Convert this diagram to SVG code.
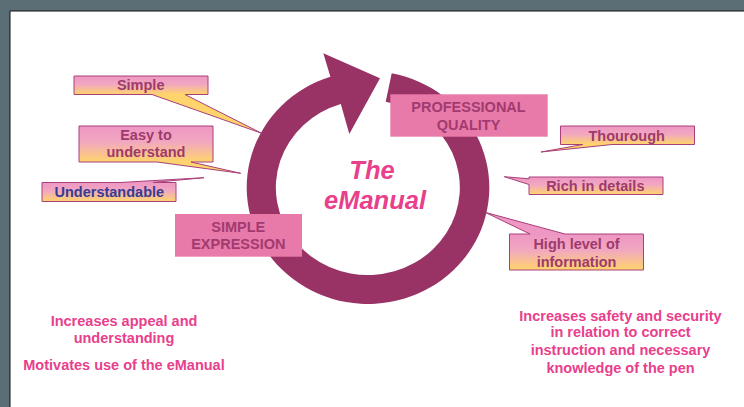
<svg xmlns="http://www.w3.org/2000/svg" xmlns:xlink="http://www.w3.org/1999/xlink" width="744" height="407" viewBox="0 0 744 407">
<defs>
<linearGradient id="g" x1="0" y1="0" x2="0" y2="1">
<stop offset="0" stop-color="#EE96C4"/>
<stop offset="0.45" stop-color="#F1A8C0"/>
<stop offset="1" stop-color="#FFD46C"/>
</linearGradient>
<linearGradient id="gSimple" href="#g" xlink:href="#g" gradientUnits="userSpaceOnUse" x1="0" y1="76" x2="0" y2="94.5"/>
<linearGradient id="gEasy" href="#g" xlink:href="#g" gradientUnits="userSpaceOnUse" x1="0" y1="126" x2="0" y2="162"/>
<linearGradient id="gUnder" href="#g" xlink:href="#g" gradientUnits="userSpaceOnUse" x1="0" y1="182.5" x2="0" y2="201.5"/>
<linearGradient id="gThor" href="#g" xlink:href="#g" gradientUnits="userSpaceOnUse" x1="0" y1="126" x2="0" y2="144.5"/>
<linearGradient id="gRich" href="#g" xlink:href="#g" gradientUnits="userSpaceOnUse" x1="0" y1="177" x2="0" y2="194.5"/>
<linearGradient id="gHigh" href="#g" xlink:href="#g" gradientUnits="userSpaceOnUse" x1="0" y1="234" x2="0" y2="270"/>
<style>
.callout{stroke:#A8407A;stroke-width:1;stroke-linejoin:miter}
.ct{font-family:"Liberation Sans",Arial,sans-serif;font-weight:bold;font-size:14.5px;fill:#9E3A6C;text-anchor:middle}
.blue{fill:#363C8E}
.pbox{fill:#E87AAA}
.pt{font-family:"Liberation Sans",Arial,sans-serif;font-weight:bold;font-size:14.5px;fill:#A23A70;text-anchor:middle}
.title{font-family:"Liberation Sans",Arial,sans-serif;font-weight:bold;font-style:italic;font-size:25.5px;fill:#E8408A;text-anchor:middle}
.note{font-family:"Liberation Sans",Arial,sans-serif;font-weight:bold;font-size:14.5px;fill:#E8408C;text-anchor:middle}
</style>
</defs>
<rect x="0" y="0" width="744" height="407" fill="#5B6E75"/>
<rect x="10" y="11" width="734" height="396" fill="#FFFFFF"/>
<path d="M10,407 V11 H744" fill="none" stroke="#111111" stroke-width="1"/>

<g id="cycle-arrow">
<path d="M391.7,73.2 A121.3,116.5 0 1 1 330.4,76.7 L323.3,53.3 L380,78.3 L349.3,134 L340.8,103.9 A92,87.5 0 1 0 385.7,101.7 Z" fill="#993265"/>
</g>

<g id="connectors"></g>

<g id="center-title">
<text class="title" x="372" y="179.3">The</text>
<text class="title" x="375" y="209.3">eManual</text>
</g>

<g id="professional-quality">
<rect class="pbox" x="390.3" y="94.3" width="157.4" height="42.4"/>
<text class="pt" x="468.5" y="112">PROFESSIONAL</text>
<text class="pt" x="468.5" y="130">QUALITY</text>
</g>

<g id="simple-expression">
<rect class="pbox" x="175" y="214" width="127" height="42.7"/>
<text class="pt" x="238.3" y="232.3">SIMPLE</text>
<text class="pt" x="238.3" y="249.3">EXPRESSION</text>
</g>

<g id="callout-simple">
<path class="callout" fill="url(#gSimple)" d="M74,76 H208 V94.5 H185 L261.7,133.3 L152,94.5 H74 Z"/>
<text class="ct" x="140.7" y="90">Simple</text>
</g>

<g id="callout-easy">
<path class="callout" fill="url(#gEasy)" d="M79,126 H213 V162 H191 L240.7,173.3 L157,162 H79 Z"/>
<text class="ct" x="146" y="140">Easy to</text>
<text class="ct" x="146" y="157.3">understand</text>
</g>

<g id="callout-understandable">
<path class="callout" fill="url(#gUnder)" d="M42,182.5 H120 L204,177.7 L153,182.5 H176 V201.5 H42 Z"/>
<text class="ct blue" x="109.3" y="196.7">Understandable</text>
</g>

<g id="callout-thourough">
<path class="callout" fill="url(#gThor)" d="M560.5,126 H694.5 V144.5 H612 L541,152 L583,144.5 H560.5 Z"/>
<text class="ct" x="626.7" y="141">Thourough</text>
</g>

<g id="callout-rich">
<path class="callout" fill="url(#gRich)" d="M529,177 H663 V194.5 H529 V184.5 L504.3,176.7 L529,178.8 Z"/>
<text class="ct" x="595.3" y="190.7">Rich in details</text>
</g>

<g id="callout-high">
<path class="callout" fill="url(#gHigh)" d="M509.5,234 H530 L485,212.3 L565,234 H643.5 V270 H509.5 Z"/>
<text class="ct" x="576.5" y="249">High level of</text>
<text class="ct" x="576.5" y="266.7">information</text>
</g>

<g id="note-left">
<text class="note" x="124" y="326">Increases appeal and</text>
<text class="note" x="124" y="343.3">understanding</text>
<text class="note" x="124" y="370">Motivates use of the eManual</text>
</g>

<g id="note-right">
<text class="note" x="620.5" y="320.5">Increases safety and security</text>
<text class="note" x="620.5" y="337">in relation to correct</text>
<text class="note" x="620.5" y="355">instruction and necessary</text>
<text class="note" x="620.5" y="372.5">knowledge of the pen</text>
</g>
</svg>
